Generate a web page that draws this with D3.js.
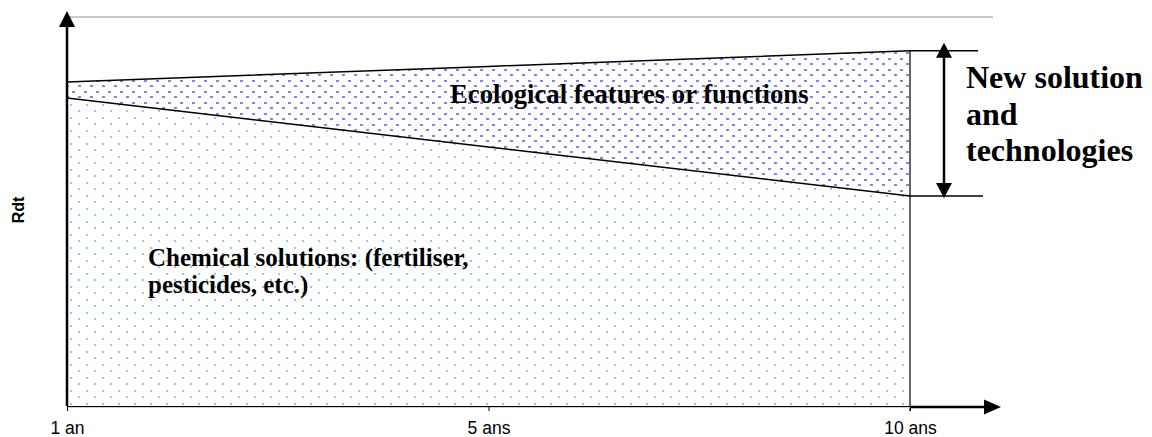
<!DOCTYPE html>
<html>
<head>
<meta charset="utf-8">
<script src="https://cdn.jsdelivr.net/npm/d3@7"></script>
<style>
  body { margin: 0; background: #fff; }
  svg { display: block; }
  .serif { font-family: "Liberation Serif", "Times New Roman", serif; font-weight: bold; fill: #000; }
  .sans { font-family: "Liberation Sans", Arial, sans-serif; fill: #000; }
</style>
</head>
<body>
<svg width="1152" height="437"></svg>
<script>
var svg = d3.select('svg');

// data
var periods = ['1 an', '5 ans', '10 ans'];
var chemical = [79.2, 66.6, 54.0];
var ecological = [4.1, 20.7, 37.3];
var yMax = 100;

var x = d3.scalePoint().domain(periods).range([67, 910]);
var y = d3.scaleLinear().domain([0, yMax]).range([406, 17]);

var rows = periods.map(function(p, i) {
  return { period: p, chemical: chemical[i], ecological: ecological[i] };
});
var stack = d3.stack().keys(['chemical', 'ecological'])(rows);

// patterns
var defs = svg.append('defs');
var pChem = defs.append('pattern')
  .attr('id', 'dotsChem')
  .attr('patternUnits', 'userSpaceOnUse')
  .attr('width', 16).attr('height', 13)
  .attr('x', 6).attr('y', 0);
pChem.append('rect').attr('x', 0).attr('y', 0).attr('width', 2).attr('height', 2).attr('fill', '#94c8fb');
pChem.append('rect').attr('x', 8).attr('y', 6).attr('width', 2).attr('height', 2).attr('fill', '#94c8fb');

var pEco = defs.append('pattern')
  .attr('id', 'dotsEco')
  .attr('patternUnits', 'userSpaceOnUse')
  .attr('width', 12).attr('height', 11)
  .attr('x', 0).attr('y', 3);
pEco.append('rect').attr('x', 0).attr('y', 0).attr('width', 3).attr('height', 2).attr('fill', '#8282f2');
pEco.append('rect').attr('x', 6).attr('y', 5).attr('width', 3).attr('height', 2).attr('fill', '#8282f2');

// top gridline
svg.append('line')
  .attr('x1', 68).attr('x2', 993)
  .attr('y1', y(yMax)).attr('y2', y(yMax))
  .attr('stroke', '#c8c8c8').attr('stroke-width', 2);

// areas
var area = d3.area()
  .x(function(d) { return x(d.data.period); })
  .y0(function(d) { return y(d[0]); })
  .y1(function(d) { return y(d[1]); });

var fills = ['url(#dotsChem)', 'url(#dotsEco)'];
svg.append('g').selectAll('path')
  .data(stack)
  .enter()
  .append('path')
  .attr('d', area)
  .attr('fill', function(d, i) { return fills[i]; });

var topLine = d3.line()
  .x(function(d) { return x(d.data.period); })
  .y(function(d) { return y(d[1]); });

svg.append('g').selectAll('path')
  .data(stack)
  .enter()
  .append('path')
  .attr('d', topLine)
  .attr('fill', 'none')
  .attr('stroke', '#000')
  .attr('stroke-width', 1.5);

var last = periods[periods.length - 1];
var xr = x(last);
var yTop = y(chemical[2] + ecological[2]);
var yChem = y(chemical[2]);

// right edge of the area
svg.append('line')
  .attr('x1', xr).attr('x2', xr)
  .attr('y1', yTop).attr('y2', y(0) + 5)
  .attr('stroke', '#000').attr('stroke-width', 1.2);

// gray axis line under the black one
svg.append('line')
  .attr('x1', x(periods[0])).attr('x2', xr)
  .attr('y1', y(0) + 1.5).attr('y2', y(0) + 1.5)
  .attr('stroke', '#d0d0d0').attr('stroke-width', 1);

// x axis
var xAxis = svg.append('g')
  .attr('transform', 'translate(0,' + y(0) + ')')
  .call(d3.axisBottom(x).tickSize(5).tickSizeOuter(0).tickPadding(11));
xAxis.select('.domain').attr('stroke', '#000').attr('stroke-width', 1.2);
xAxis.selectAll('.tick line').attr('stroke', '#000');
xAxis.selectAll('text')
  .attr('class', 'sans')
  .attr('dy', '0.66em')
  .style('font-size', '17.5px')
  .attr('fill', '#000');

// x axis arrow
svg.append('line')
  .attr('x1', xr).attr('x2', 986)
  .attr('y1', y(0) + 1).attr('y2', y(0) + 1)
  .attr('stroke', '#000').attr('stroke-width', 2.5);
svg.append('path')
  .attr('d', 'M984,' + (y(0) - 6.5) + 'L1001,' + (y(0) + 1) + 'L984,' + (y(0) + 8.5) + 'Z')
  .attr('fill', '#000');

// y axis with arrow
var x0 = x(periods[0]);
svg.append('line')
  .attr('x1', x0).attr('x2', x0)
  .attr('y1', y(0)).attr('y2', 26)
  .attr('stroke', '#000').attr('stroke-width', 2.5);
svg.append('path')
  .attr('d', 'M' + (x0 - 8) + ',27L' + x0 + ',11L' + (x0 + 8) + ',27Z')
  .attr('fill', '#000');

svg.append('text')
  .attr('class', 'sans')
  .attr('transform', 'translate(24,210) rotate(-90)')
  .attr('text-anchor', 'middle')
  .style('font-size', '16px')
  .style('font-weight', 'bold')
  .text('Rdt');

// bracket on the right
[yTop, yChem].forEach(function(yy, i) {
  svg.append('line')
    .attr('x1', xr).attr('x2', i === 0 ? 978 : 983)
    .attr('y1', yy).attr('y2', yy)
    .attr('stroke', '#000').attr('stroke-width', 1.5);
});
var xa = 944;
svg.append('line')
  .attr('x1', xa).attr('x2', xa)
  .attr('y1', yTop + 5).attr('y2', yChem - 5)
  .attr('stroke', '#000').attr('stroke-width', 2.5);
svg.append('path')
  .attr('d', 'M' + (xa - 8) + ',' + (yTop + 7) + 'L' + xa + ',' + (yTop - 8) + 'L' + (xa + 8) + ',' + (yTop + 7) + 'Z')
  .attr('fill', '#000');
svg.append('path')
  .attr('d', 'M' + (xa - 8) + ',' + (yChem - 13) + 'L' + xa + ',' + (yChem + 2) + 'L' + (xa + 8) + ',' + (yChem - 13) + 'Z')
  .attr('fill', '#000');

// labels
svg.append('text')
  .attr('class', 'serif')
  .attr('x', 450).attr('y', 103)
  .style('font-size', '26.7px')
  .text('Ecological features or functions');

var chemLines = ['Chemical solutions: (fertiliser,', 'pesticides, etc.)'];
svg.append('g').selectAll('text')
  .data(chemLines)
  .enter()
  .append('text')
  .attr('class', 'serif')
  .attr('x', 148)
  .attr('y', function(d, i) { return 266 + i * 27; })
  .style('font-size', '25px')
  .text(function(d) { return d; });

var newLines = ['New solution', 'and', 'technologies'];
svg.append('g').selectAll('text')
  .data(newLines)
  .enter()
  .append('text')
  .attr('class', 'serif')
  .attr('x', 966)
  .attr('y', function(d, i) { return 88 + i * 36.5; })
  .style('font-size', '32px')
  .text(function(d) { return d; });
</script>
</body>
</html>
